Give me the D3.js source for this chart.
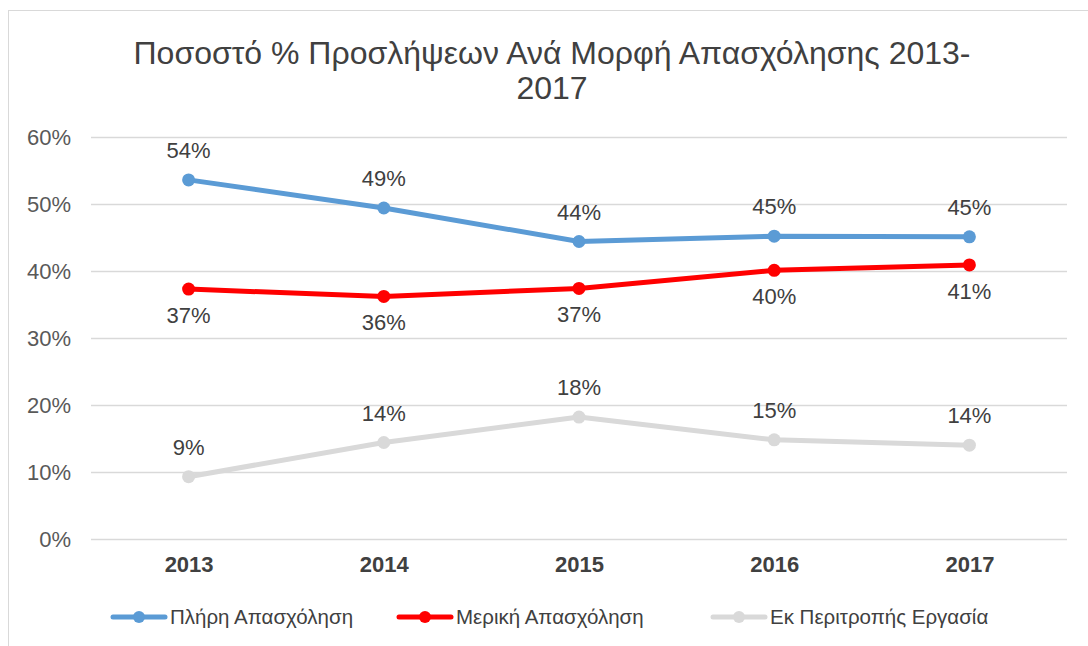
<!DOCTYPE html>
<html lang="el">
<head>
<meta charset="UTF-8">
<title>Ποσοστό % Προσλήψεων</title>
<script src="https://d3js.org/d3.v7.min.js"></script>
<style>
    body { margin: 0; background: #fff; font-family: "Liberation Sans", Arial, sans-serif; }
    svg { display: block; }
</style>
</head>
<body>
<div id="chart"></div>
<script>
// data
var years = ["2013", "2014", "2015", "2016", "2017"];
var fullTime = [0.536, 0.494, 0.444, 0.452, 0.451];
var partTime = [0.373, 0.362, 0.374, 0.401, 0.409];
var rotation = [0.093, 0.144, 0.182, 0.148, 0.140];
var seriesNames = ["Πλήρη Απασχόληση", "Μερική Απασχόληση", "Εκ Περιτροπής Εργασία"];
var yTicks = [0, 0.1, 0.2, 0.3, 0.4, 0.5, 0.6];

var w = 1088, h = 646;
var plotLeft = 91, plotRight = 1067, plotTop = 137, plotBottom = 539;

var svg = d3.select("#chart").append("svg")
    .attr("width", w)
    .attr("height", h);

// chart frame
svg.append("rect")
    .attr("x", 8.5).attr("y", 10.5)
    .attr("width", w + 20).attr("height", h + 20)
    .attr("fill", "#fff")
    .attr("stroke", "#d9d9d9");

var x = d3.scalePoint().domain(years).range([plotLeft, plotRight]).padding(0.5);
var y = d3.scaleLinear().domain([0, 0.6]).range([plotBottom, plotTop]);

// title
var title = svg.append("text")
    .attr("text-anchor", "middle")
    .attr("fill", "#404040")
    .style("font-size", "32px");
title.append("tspan").attr("x", 552).attr("y", 64).text("Ποσοστό % Προσλήψεων Ανά Μορφή Απασχόλησης 2013-");
title.append("tspan").attr("x", 552).attr("y", 99).text("2017");

// grid + y axis
var yAxis = d3.axisLeft(y)
    .tickValues(yTicks)
    .tickSize(-(plotRight - plotLeft))
    .tickPadding(20)
    .tickFormat(d3.format(".0%"));

var gy = svg.append("g")
    .attr("transform", "translate(" + plotLeft + ",0)")
    .call(yAxis);
gy.select(".domain").remove();
gy.selectAll("line").attr("stroke", "#d9d9d9").attr("stroke-width", 1.5);
gy.selectAll("text").attr("fill", "#595959").style("font-size", "22px")
    .style("font-family", "'Liberation Sans', Arial, sans-serif");

// x axis labels
var xAxis = d3.axisBottom(x).tickSize(0).tickPadding(17);
var gx = svg.append("g")
    .attr("transform", "translate(0," + plotBottom + ")")
    .call(xAxis);
gx.select(".domain").remove();
gx.selectAll("text").attr("fill", "#404040").style("font-size", "22px")
    .style("font-weight", "bold")
    .style("font-family", "'Liberation Sans', Arial, sans-serif");

var series = [
    { name: seriesNames[0], values: fullTime, color: "#5b9bd5", labelDy: -22 },
    { name: seriesNames[1], values: partTime, color: "#ff0000", labelDy: 34 },
    { name: seriesNames[2], values: rotation, color: "#d9d9d9", labelDy: -22 }
];

var line = d3.line()
    .x(function(d, i) { return x(years[i]); })
    .y(function(d) { return y(d); });

series.forEach(function(s) {
    var g = svg.append("g");
    g.append("path")
        .attr("d", line(s.values))
        .attr("fill", "none")
        .attr("stroke", s.color)
        .attr("stroke-width", 5)
        .attr("stroke-linejoin", "round")
        .attr("stroke-linecap", "round");
    g.selectAll("circle")
        .data(s.values)
        .enter()
        .append("circle")
        .attr("cx", function(d, i) { return x(years[i]); })
        .attr("cy", function(d) { return y(d); })
        .attr("r", 6.5)
        .attr("fill", s.color);
    g.selectAll("text")
        .data(s.values)
        .enter()
        .append("text")
        .attr("x", function(d, i) { return x(years[i]); })
        .attr("y", function(d) { return y(d) + s.labelDy; })
        .attr("text-anchor", "middle")
        .attr("fill", "#404040")
        .style("font-size", "22px")
        .text(function(d) { return d3.format(".0%")(d); });
});

// legend
var legendX = [113, 399, 713];
var legend = svg.append("g");
series.forEach(function(s, i) {
    var lg = legend.append("g").attr("transform", "translate(" + legendX[i] + ",617)");
    lg.append("line")
        .attr("x1", 0).attr("x2", 52)
        .attr("stroke", s.color)
        .attr("stroke-width", 5)
        .attr("stroke-linecap", "round");
    lg.append("circle").attr("cx", 26).attr("r", 6).attr("fill", s.color);
    lg.append("text")
        .attr("x", 57)
        .attr("dy", "0.35em")
        .attr("fill", "#404040")
        .style("font-size", "20.5px")
        .text(s.name);
});
</script>
</body>
</html>
